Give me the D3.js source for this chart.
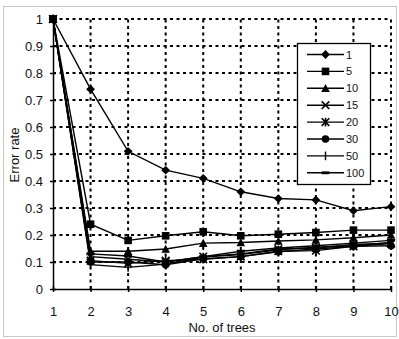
<!DOCTYPE html>
<html>
<head>
<meta charset="utf-8">
<script src="https://cdn.jsdelivr.net/npm/d3@7/dist/d3.min.js"></script>
<style>
  html, body { margin: 0; padding: 0; background: #fff; }
  svg { display: block; font-family: "Liberation Sans", Arial, sans-serif; }
</style>
</head>
<body>
<svg id="chart" width="399" height="339"></svg>
<script>
// Number of trees on the x axis
const trees = [1, 2, 3, 4, 5, 6, 7, 8, 9, 10];
const yTicks = [0, 0.1, 0.2, 0.3, 0.4, 0.5, 0.6, 0.7, 0.8, 0.9, 1];

// Error rate for each setting (legend label -> values per tree count)
const seriesNames = ["1", "5", "10", "15", "20", "30", "50", "100"];
const err1   = [1, 0.74, 0.51, 0.44, 0.41, 0.36, 0.335, 0.33, 0.29, 0.305];
const err5   = [1, 0.24, 0.18, 0.197, 0.212, 0.197, 0.203, 0.209, 0.218, 0.218];
const err10  = [1, 0.14, 0.14, 0.148, 0.17, 0.172, 0.178, 0.182, 0.19, 0.20];
const err15  = [1, 0.12, 0.11, 0.10, 0.12, 0.13, 0.148, 0.152, 0.165, 0.17];
const err20  = [1, 0.105, 0.095, 0.105, 0.11, 0.12, 0.14, 0.142, 0.158, 0.168];
const err30  = [1, 0.10, 0.10, 0.09, 0.112, 0.12, 0.138, 0.148, 0.158, 0.16];
const err50  = [1, 0.09, 0.08, 0.092, 0.118, 0.128, 0.145, 0.155, 0.16, 0.172];
const err100 = [1, 0.13, 0.122, 0.10, 0.12, 0.14, 0.152, 0.16, 0.17, 0.18];
const seriesValues = [err1, err5, err10, err15, err20, err30, err50, err100];
const markers = ["diamond", "square", "triangle", "cross", "asterisk", "circle", "bar", "dash"];

const svg = d3.select("#chart");

// outer chart frame
svg.append("rect")
  .attr("x", 3.5).attr("y", 6.5).attr("width", 393).attr("height", 330)
  .attr("fill", "none").attr("stroke", "#c8c8c8").attr("stroke-width", 1);

const x = d3.scaleLinear().domain([1, 10]).range([53, 391]);
const y = d3.scaleLinear().domain([0, 1]).range([289, 19]);

// dotted grid
const grid = svg.append("g")
  .attr("stroke", "#000").attr("stroke-width", 2).attr("stroke-dasharray", "3,3.5");
grid.selectAll("line.h").data(yTicks.filter(d => d > 0)).join("line")
  .attr("class", "h")
  .attr("x1", x(1)).attr("x2", x(10))
  .attr("y1", d => y(d)).attr("y2", d => y(d));
grid.selectAll("line.v").data(trees.filter(d => d > 1)).join("line")
  .attr("class", "v")
  .attr("x1", d => x(d)).attr("x2", d => x(d))
  .attr("y1", y(0)).attr("y2", y(1));

// axes
const yAxis = d3.axisLeft(y).tickValues(yTicks)
  .tickFormat(d => d === 0 ? "0" : d === 1 ? "1" : d3.format(".1f")(d))
  .tickSizeInner(4).tickSizeOuter(0).tickPadding(6);
const gy = svg.append("g").attr("transform", `translate(${x(1)},0)`).call(yAxis);
gy.select(".domain").attr("stroke", "#000").attr("stroke-width", 1.5);
gy.selectAll(".tick line").attr("stroke", "#000").attr("stroke-width", 1.5).attr("x2", 3).attr("x1", -3);
gy.selectAll(".tick text").attr("font-size", 13).attr("fill", "#111")
  .attr("font-family", "Liberation Sans, Arial, sans-serif");

const xAxis = d3.axisBottom(x).tickValues(trees).tickFormat(d3.format("d"))
  .tickSizeInner(4).tickSizeOuter(0).tickPadding(14);
const gx = svg.append("g").attr("transform", `translate(0,${y(0)})`).call(xAxis);
gx.select(".domain").attr("stroke", "#000").attr("stroke-width", 1.5);
gx.selectAll(".tick line").attr("stroke", "#000").attr("stroke-width", 1.5).attr("y1", -3).attr("y2", 3);
gx.selectAll(".tick text").attr("font-size", 13).attr("fill", "#111")
  .attr("font-family", "Liberation Sans, Arial, sans-serif");

// axis titles
svg.append("text").attr("x", 222).attr("y", 332).attr("text-anchor", "middle")
  .attr("font-size", 13).attr("fill", "#111").text("No. of trees");
svg.append("text").attr("transform", "translate(19,155) rotate(-90)")
  .attr("text-anchor", "middle").attr("font-size", 13).attr("fill", "#111").text("Error rate");

// marker drawing
function drawMarker(g, type, cx, cy) {
  const s = 3.8;
  switch (type) {
    case "diamond":
      g.append("path").attr("d", `M${cx},${cy - s - 0.6}L${cx + s + 0.6},${cy}L${cx},${cy + s + 0.6}L${cx - s - 0.6},${cy}Z`).attr("fill", "#000");
      break;
    case "square":
      g.append("rect").attr("x", cx - s).attr("y", cy - s).attr("width", 2 * s).attr("height", 2 * s).attr("fill", "#000");
      break;
    case "triangle":
      g.append("path").attr("d", `M${cx},${cy - s - 0.5}L${cx + s + 0.5},${cy + s}L${cx - s - 0.5},${cy + s}Z`).attr("fill", "#000");
      break;
    case "cross":
      g.append("path").attr("d", `M${cx - s},${cy - s}L${cx + s},${cy + s}M${cx - s},${cy + s}L${cx + s},${cy - s}`)
        .attr("stroke", "#000").attr("stroke-width", 1.6);
      break;
    case "asterisk":
      g.append("path").attr("d", `M${cx - s},${cy - s}L${cx + s},${cy + s}M${cx - s},${cy + s}L${cx + s},${cy - s}M${cx},${cy - s - 0.5}L${cx},${cy + s + 0.5}`)
        .attr("stroke", "#000").attr("stroke-width", 1.6);
      break;
    case "circle":
      g.append("circle").attr("cx", cx).attr("cy", cy).attr("r", s).attr("fill", "#000");
      break;
    case "bar":
      g.append("path").attr("d", `M${cx},${cy - s - 0.5}L${cx},${cy + s + 0.5}`)
        .attr("stroke", "#000").attr("stroke-width", 1.4);
      break;
    case "dash":
      g.append("rect").attr("x", cx - s).attr("y", cy - 1.4).attr("width", 2 * s).attr("height", 2.8).attr("fill", "#000");
      break;
  }
}

// series lines and markers
const line = d3.line().x((d, i) => x(trees[i])).y(d => y(d));
const plot = svg.append("g");
seriesValues.forEach((vals, k) => {
  plot.append("path").datum(vals).attr("d", line)
    .attr("fill", "none").attr("stroke", "#000").attr("stroke-width", 1.4);
});
seriesValues.forEach((vals, k) => {
  const g = plot.append("g");
  vals.forEach((v, i) => drawMarker(g, markers[k], x(trees[i]), y(v)));
});

// legend
const lg = svg.append("g");
lg.append("rect").attr("x", 297.5).attr("y", 43.5).attr("width", 73).attr("height", 141)
  .attr("fill", "#fff").attr("stroke", "#000").attr("stroke-width", 1.3);
seriesNames.forEach((name, k) => {
  const cy = 54.5 + k * 16.9;
  const g = lg.append("g");
  g.append("line").attr("x1", 307).attr("x2", 344).attr("y1", cy).attr("y2", cy)
    .attr("stroke", "#000").attr("stroke-width", 1.4);
  drawMarker(g, markers[k], 325.5, cy);
  g.append("text").attr("x", 346).attr("y", cy + 4).attr("font-size", 11)
    .attr("fill", "#111").text(name);
});
</script>
</body>
</html>
